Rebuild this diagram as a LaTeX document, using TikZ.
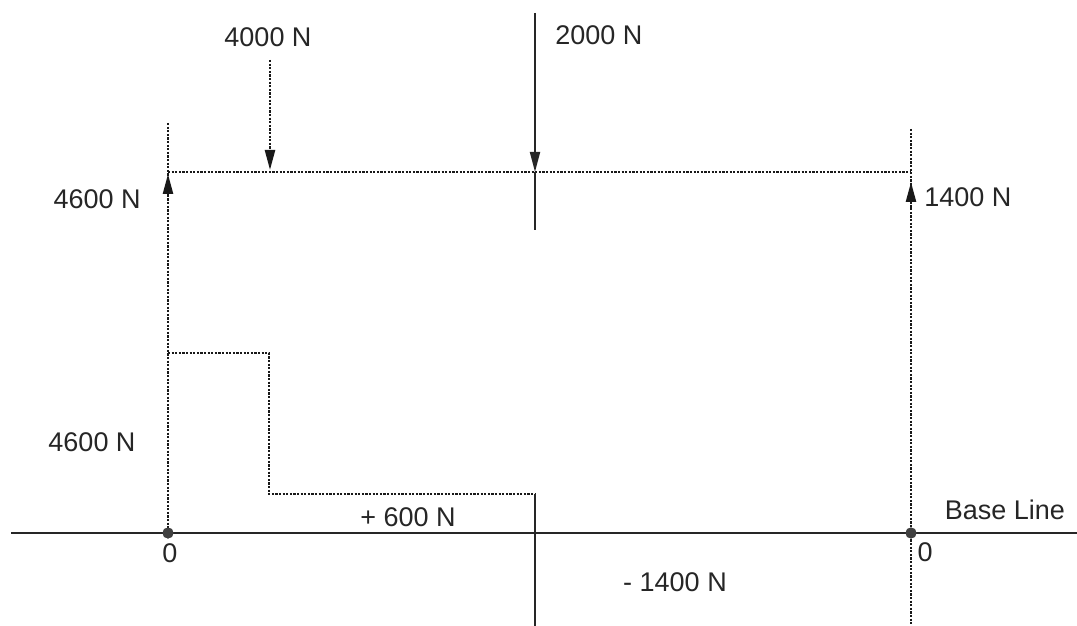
\documentclass[tikz,border=0pt]{standalone}
\usepackage{fontspec}
\setmainfont{Liberation Sans}
\usetikzlibrary{arrows.meta, positioning}

\begin{document}
\begin{tikzpicture}[
    x=0.5pt, y=-0.5pt,
    font=\fontsize{13.5}{16}\selectfont,
    % Style definitions
    dotline/.style={dash pattern=on 1.1pt off 0.7pt, line width=1.2pt, black!90},
    solidline/.style={line width=0.9pt, black!85},
    force/.style={-{Triangle[length=10pt, width=5pt]}},
    support/.style={circle, fill=black!75, inner sep=0pt, minimum size=5.5pt},
    forcelabel/.style={inner sep=1pt, text=black!85},
]
\useasboundingbox (0,0) rectangle (1077,626);

%% ---------- BEAM AND SUPPORTS ----------
\coordinate (left_top) at (168,123);
\coordinate (right_top) at (911,129);
\coordinate (beam_left) at (168,172);
\coordinate (beam_right) at (911,172);
\node[support] (left_pin) at (168,533) {};
\node[support] (right_pin) at (911,533) {};
\coordinate (right_bottom) at (911,626);

%% ---------- LOAD POINTS ----------
\coordinate (load_a_top) at (270,60);
\coordinate (load_a) at (270,170);
\coordinate (load_b_top) at (535,13);
\coordinate (load_b) at (535,172);
\coordinate (load_b_end) at (535,230);
\coordinate (react_left_tail) at (168,200);
\coordinate (react_left) at (168,174);
\coordinate (react_right_tail) at (911,208);
\coordinate (react_right) at (911,182);

%% ---------- SHEAR DIAGRAM ----------
\coordinate (shear_top_left) at (168,353);
\coordinate (shear_top_right) at (269,353);
\coordinate (shear_step_left) at (269,494);
\coordinate (shear_step_right) at (535,494);
\coordinate (shear_drop) at (535,626);
\coordinate (base_start) at (11,533);
\coordinate (base_end) at (1077,533);

%% ========== LINES ==========

% Base line
\draw[solidline] (base_start) -- (base_end);

% Beam and vertical lines
\draw[dotline] (beam_left) -- (beam_right);
\draw[dotline] (left_top) -- (left_pin.center);
\draw[dotline] (right_top) -- (right_bottom);

% Applied loads
\draw[dotline, force] (load_a_top) -- (load_a);
\draw[solidline, force] (load_b_top) -- (load_b);
\draw[solidline] (load_b) -- (load_b_end);

% Reactions
\draw[dotline, force] (react_left_tail) -- (react_left);
\draw[dotline, force] (react_right_tail) -- (react_right);

% Shear force outline
\draw[dotline] (shear_top_left) -- (shear_top_right)
    -- (shear_step_left) -- (shear_step_right);
\draw[solidline] (shear_step_right) -- (shear_drop);

% Pins on top
\node[support] at (left_pin) {};
\node[support] at (right_pin) {};

%% ========== LABELS ==========
\node[forcelabel] (load_a_text) at (268,37) {4000 N};
\node[forcelabel, right=9pt of load_b_top, yshift=-11pt] (load_b_text) {2000 N};
\node[forcelabel, anchor=east] (react_left_text) at (143,199) {4600 N};
\node[forcelabel, anchor=west] (react_right_text) at (922,197) {1400 N};
\node[forcelabel] (shear_left_text) at (92,442) {4600 N};
\node[forcelabel] (shear_mid_text) at (408,517) {+ 600 N};
\node[forcelabel] (shear_neg_text) at (675,582) {- 1400 N};
\node[forcelabel] (base_text) at (1005,510) {Base Line};
\node[forcelabel] (zero_left) at (170,553) {0};
\node[forcelabel] (zero_right) at (925,552) {0};

\end{tikzpicture}
\end{document}
